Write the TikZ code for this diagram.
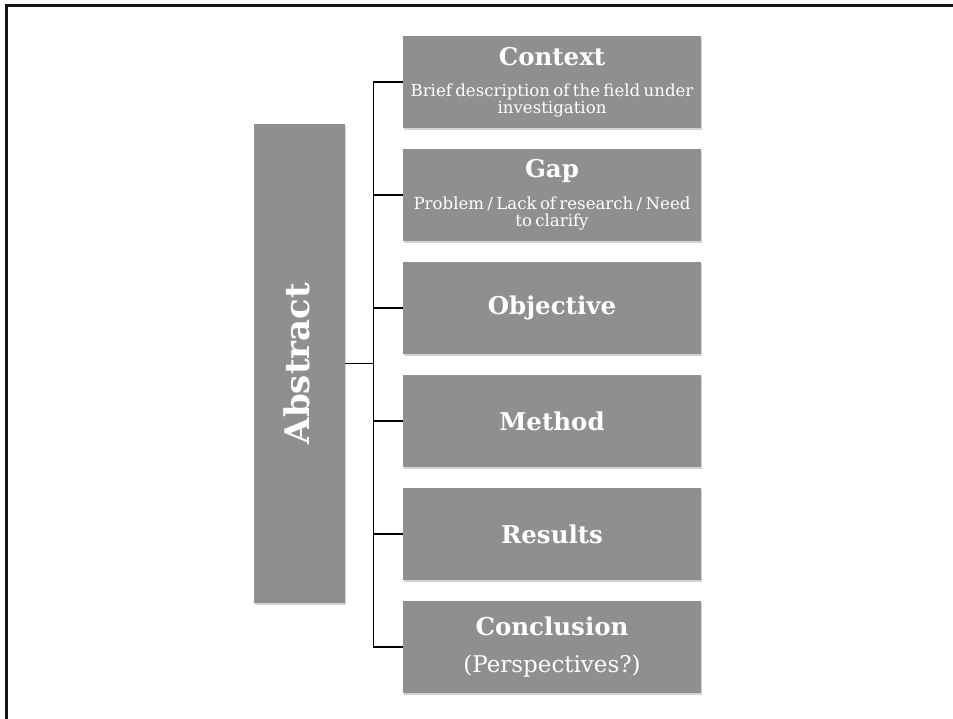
\documentclass[tikz,border=0pt]{standalone}
\usepackage{fontspec}
\setmainfont{DejaVu Serif}
\usetikzlibrary{shadows}
\definecolor{boxgray}{RGB}{143,143,143}
\definecolor{framegray}{RGB}{20,20,20}
\newcommand\hdfont{\bfseries\fontsize{24.5}{28}\selectfont}
\newcommand\sbfont{\fontsize{16.6}{17}\selectfont}
\newcommand\ptfont{\fontsize{23}{28}\selectfont}
\begin{document}
\begin{tikzpicture}[x=1pt,y=-1pt,
  panel/.style={fill=boxgray, text=white, inner sep=0pt, align=center,
    drop shadow={shadow xshift=1.2pt, shadow yshift=-1.8pt, opacity=0.35}},
  part/.style={panel, minimum width=298pt, minimum height=92pt, text width=298pt},
  link/.style={draw=black, line width=1.1pt}]
\useasboundingbox (0,0) rectangle (953,719);
% page frame, running off the right and bottom edges
\begin{scope}
  \clip (0,0) rectangle (953,719);
  \fill[white] (0,0) rectangle (953,719);
  \draw[line width=2.6pt, framegray] (6.5,5.5) rectangle (980,750);
\end{scope}

% left column
\node[panel, minimum width=91pt, minimum height=479pt] (abs) at (299.5,363.5) {};
\node[rotate=90, text=white, font=\bfseries\fontsize{34}{40}\selectfont, inner sep=0pt]
  (abslabel) at (297,363.5) {Abstract};

% parts of the abstract
\node[part] (ctx) at (552,82)
  {{\hdfont Context\par}\vspace{14pt}{\sbfont Brief description of the field under\\investigation\par}};
\node[part] (gap) at (552,195)
  {{\hdfont Gap\par}\vspace{13pt}{\sbfont Problem / Lack of research / Need\\to clarify\par}};
\node[part] (obj) at (552,308) {\hdfont Objective};
\node[part] (meth) at (552,421) {\hdfont Method};
\node[part] (res) at (552,534) {\hdfont Results};
\node[part] (concl) at (552,647)
  {{\hdfont Conclusion\par}\vspace{9pt}{\ptfont (Perspectives?)\par}};

% connectors
\draw[link] (abs.east) -- ++(28,0) coordinate (hub);
\draw[link] (ctx.west) -- (ctx.west -| hub) -- (concl.west -| hub) -- (concl.west);
\foreach \n in {gap,obj,meth,res}
  \draw[link] (\n.west) -- (\n.west -| hub);
\end{tikzpicture}
\end{document}
